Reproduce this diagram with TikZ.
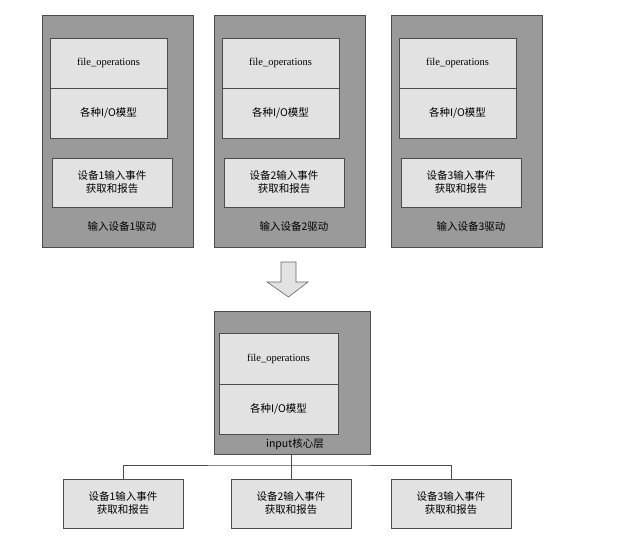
\documentclass[tikz,border=0pt]{standalone}
\usepackage{fontspec}
\setmainfont{Liberation Serif}
\newfontfamily\cjk{Noto Sans CJK SC}
\definecolor{outerg}{HTML}{9A9A9A}
\definecolor{innerg}{HTML}{E2E2E2}
\begin{document}
\begin{tikzpicture}[x=1pt,y=-1pt,
  outer/.style={draw=black!70,fill=outerg,line width=0.8pt},
  inner/.style={draw=black!70,fill=innerg,line width=0.6pt},
  lbl/.style={font=\cjk\fontsize{10.5}{13}\selectfont,align=center,inner sep=0pt},
  conn/.style={draw=black!70,line width=0.6pt}]
\useasboundingbox (0,0) rectangle (636,553);
\foreach \i/\x in {1/42,2/214,3/391}{
  \draw[outer] (\x,15) rectangle ++(151,232);
  \draw[inner] (\x+8,38) rectangle ++(117,50);
  \draw[inner] (\x+8,88) rectangle ++(117,50);
  \draw[inner] (\x+10,158) rectangle ++(120,49);
  \node[lbl,font=\fontsize{10.5}{13}\selectfont] (f\i) at (\x+66.5,63) {file\_operations};
  \node[lbl] (m\i) at (\x+66.5,113) {各种I/O模型};
  \node[lbl] (e\i) at (\x+70,182.5) {设备\i 输入事件\\获取和报告};
  \node[lbl] (d\i) at (\x+80,227) {输入设备\i 驱动};
}
\draw[draw=black!60,fill=innerg,line width=0.6pt] (281,262) -- (296,262) -- (296,282) -- (308,282) -- (288.5,297) -- (267,282) -- (281,282) -- cycle;
\draw[outer] (214,311) rectangle (370,454);
\draw[inner] (219,333) rectangle (338,384);
\draw[inner] (219,384) rectangle (338,434);
\node[lbl,font=\fontsize{10.5}{13}\selectfont] (cf) at (278.5,359) {file\_operations};
\node[lbl] (cm) at (278.5,409) {各种I/O模型};
\node[lbl] (core) at (295,444) {input核心层};
\coordinate (top) at (291,454);
\foreach \i/\x in {1/63,2/231,3/391}{
  \draw[inner] (\x,479) rectangle ++(120,49);
  \node[lbl] (b\i) at (\x+60,503.5) {设备\i 输入事件\\获取和报告};
  \coordinate (t\i) at (\x+60,479);
}
\draw[conn] (top) -- (291,465);
\draw[conn] (t1) |- (291,465) -| (t3);
\draw[conn] (291,465) -- (t2);
\end{tikzpicture}
\end{document}
